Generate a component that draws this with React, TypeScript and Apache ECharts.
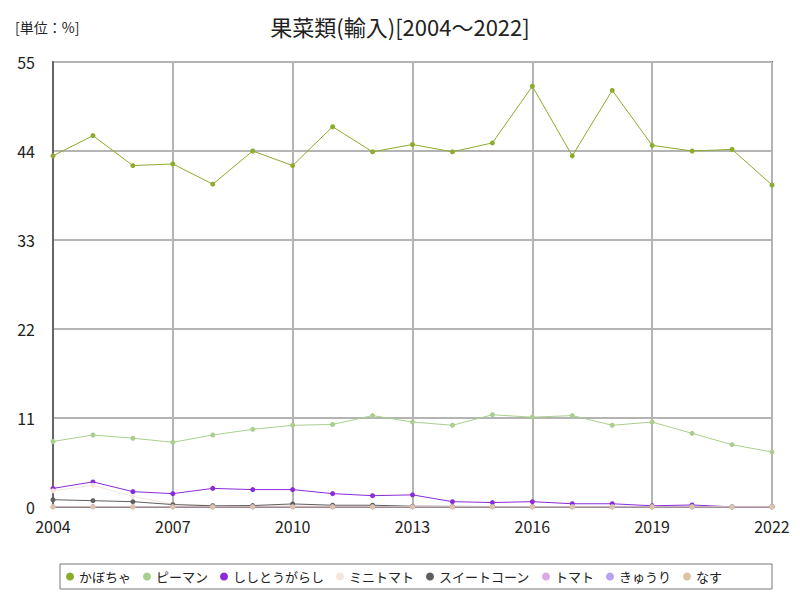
import React, { useEffect, useRef } from "react";
import * as echarts from "echarts";

const years = ["2004","2005","2006","2007","2008","2009","2010","2011","2012","2013","2014","2015","2016","2017","2018","2019","2020","2021","2022"];
const kabocha = [43.4,45.9,42.2,42.4,39.9,44.0,42.2,47.0,43.9,44.8,43.9,45.0,52.0,43.4,51.5,44.7,44.0,44.2,39.8];
const piman = [8.1,8.9,8.5,8.0,8.9,9.6,10.1,10.2,11.3,10.5,10.1,11.4,11.1,11.3,10.1,10.5,9.1,7.7,6.8];
const shishito = [2.3,3.1,1.9,1.65,2.3,2.15,2.15,1.65,1.4,1.5,0.66,0.55,0.66,0.4,0.4,0.15,0.25,0.02,0.03];
const minitomato = [2.0,2.7,1.3,0.35,0.2,0.15,0.15,0.1,0.1,0.08,0.06,0.05,0.05,0.05,0.04,0.03,0.03,0.02,0.02];
const sweetcorn = [0.9,0.78,0.66,0.3,0.15,0.18,0.38,0.22,0.22,0.1,0.08,0.06,0.05,0.05,0.04,0.03,0.03,0.02,0.02];
const tomato = [0.05,0.06,0.03,0.02,0.02,0.02,0.02,0.02,0.02,0.01,0.01,0.01,0.01,0.01,0.01,0.01,0.01,0.01,0.01];
const kyuri = [0.01,0.01,0.01,0.01,0.01,0.01,0.01,0.01,0.01,0.01,0.01,0.01,0.01,0.01,0.01,0.01,0.01,0.01,0.01];
const nasu = [0.01,0.01,0.01,0.01,0.01,0.01,0.01,0.01,0.01,0.01,0.01,0.01,0.01,0.01,0.01,0.01,0.01,0.01,0.01];
const yTicks = [0, 11, 22, 33, 44, 55];

const seriesDefs = [
  { name: "かぼちゃ", data: kabocha, color: "#8dab2c" },
  { name: "ピーマン", data: piman, color: "#a9cf8c" },
  { name: "ししとうがらし", data: shishito, color: "#8a2bd8" },
  { name: "ミニトマト", data: minitomato, color: "#f2e6de" },
  { name: "スイートコーン", data: sweetcorn, color: "#5f5f5f" },
  { name: "トマト", data: tomato, color: "#d9a9e2" },
  { name: "きゅうり", data: kyuri, color: "#b9a2f0" },
  { name: "なす", data: nasu, color: "#dcc5a3" },
];

const FONT = "'Noto Sans CJK JP', 'Noto Sans', sans-serif";

export default function App() {
  const ref = useRef<HTMLDivElement>(null);
  useEffect(() => {
    if (!ref.current) return;
    document.body.style.margin = "0";
    const chart = echarts.init(ref.current, undefined, { renderer: "svg" });
    chart.setOption({
      animation: false,
      textStyle: { fontFamily: FONT },
      title: {
        text: "果菜類(輸入)[2004～2022]",
        left: "center",
        top: 10,
        textStyle: { fontSize: 22, fontWeight: "normal", color: "#222", fontFamily: FONT },
      },
      graphic: [
        {
          type: "text",
          left: 15,
          top: 20,
          style: { text: "[単位：%]", fontSize: 14, fill: "#222", fontFamily: FONT },
        },
      ],
      legend: {
        bottom: 11,
        left: 60,
        icon: "circle",
        itemWidth: 8,
        itemHeight: 8,
        itemGap: 12,
        padding: [6, 50, 6, 6],
        borderColor: "#777",
        borderWidth: 1,
        textStyle: { fontSize: 13, color: "#222", fontFamily: FONT },
        data: seriesDefs.map((s) => s.name),
      },
      grid: { left: 53, right: 28, top: 62, bottom: 93, show: true, borderColor: "#666", borderWidth: 2 },
      xAxis: {
        type: "category",
        data: years,
        boundaryGap: false,
        axisLine: { show: true, lineStyle: { color: "#666", width: 2 } },
        axisTick: { show: false },
        axisLabel: { interval: 2, fontSize: 16, color: "#222", margin: 11 },
        splitLine: { show: true, interval: 2, lineStyle: { color: "#b4b4b4", width: 2 } },
      },
      yAxis: {
        type: "value",
        min: yTicks[0],
        max: yTicks[yTicks.length - 1],
        interval: 11,
        axisLine: { show: true, lineStyle: { color: "#666", width: 2 } },
        axisTick: { show: false },
        axisLabel: { fontSize: 16, color: "#222", margin: 18 },
        splitLine: { show: true, lineStyle: { color: "#b4b4b4", width: 2 } },
      },
      series: seriesDefs.map((s) => ({
        name: s.name,
        type: "line",
        data: s.data,
        color: s.color,
        symbol: "circle",
        symbolSize: 5,
        lineStyle: { width: 1, color: s.color },
        itemStyle: { color: s.color },
        z: 3,
      })),
    });
    return () => chart.dispose();
  }, []);
  return <div ref={ref} style={{ width: 800, height: 600 }} />;
}
